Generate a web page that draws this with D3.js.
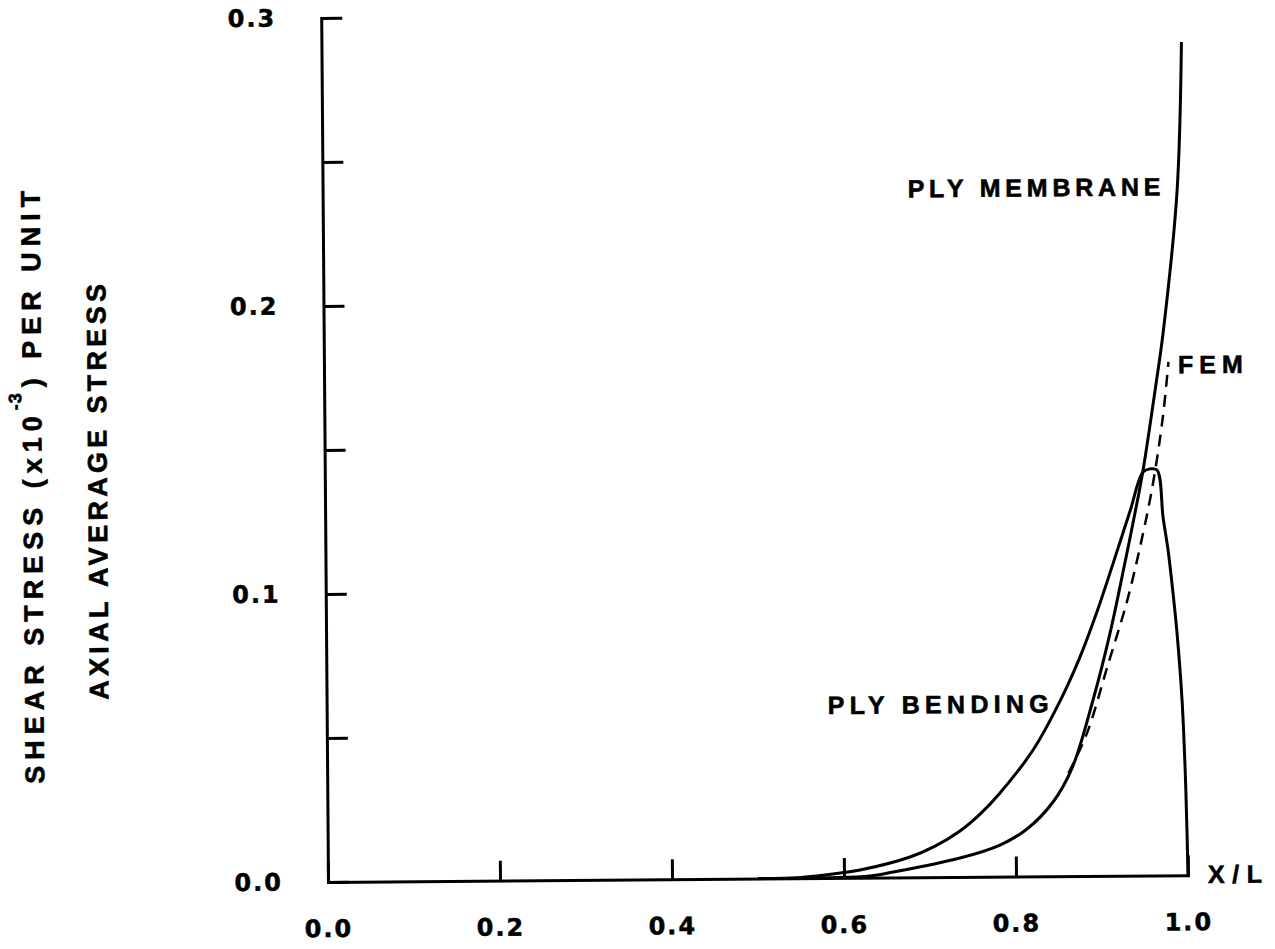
<!DOCTYPE html>
<html>
<head>
<meta charset="utf-8">
<script src="https://cdn.jsdelivr.net/npm/d3@7"></script>
<style>
  html, body { margin: 0; padding: 0; background: #fff; }
  svg { display: block; }
  .lbl { font-family: "Liberation Sans", Arial, sans-serif; font-weight: bold; fill: #000; stroke: #000; stroke-width: 0.6px; }
  .tick text { font-family: "DejaVu Sans", sans-serif; font-weight: bold; font-size: 24px; fill: #000; stroke: #000; stroke-width: 0.5px; letter-spacing: 2px; }
</style>
</head>
<body>
<script>
// ---- data ----
const xTickVals = [0, 0.2, 0.4, 0.6, 0.8, 1.0];
const yTickVals = [0, 0.05, 0.1, 0.15, 0.2, 0.25, 0.3];
const yLabelVals = [0, 0.1, 0.2, 0.3];

const membraneX = [0.50, 0.58, 0.6303, 0.6571, 0.7351, 0.7817, 0.8133, 0.8438, 0.8662, 0.8912, 0.9116, 0.9285, 0.9448, 0.9515, 0.968, 0.976, 0.9935, 1.0];
const membraneY = [0, 0.0001, 0.0006, 0.0019, 0.0066, 0.0110, 0.0165, 0.0258, 0.0375, 0.0611, 0.0843, 0.1072, 0.1304, 0.1408, 0.172, 0.1883, 0.2373, 0.2893];

const bendingX = [0.50, 0.55, 0.5954, 0.6187, 0.677, 0.7062, 0.7353, 0.7588, 0.7822, 0.821, 0.8528, 0.8765, 0.8967, 0.9157, 0.936, 0.9514, 0.9596, 0.9677, 0.9743, 0.9798, 0.9852, 0.9895, 0.9947, 0.9976, 0.9993, 1.0];
const bendingY = [0, 0.0003, 0.0017, 0.0027, 0.0071, 0.0108, 0.016, 0.0218, 0.0291, 0.0439, 0.0608, 0.0761, 0.0918, 0.1084, 0.1266, 0.1401, 0.1412, 0.1408, 0.1244, 0.113, 0.098, 0.0841, 0.0609, 0.0376, 0.0147, 0];

const femX = [0.862, 0.884, 0.908, 0.932, 0.951, 0.963, 0.975, 0.982];
const femY = [0.0358, 0.0497, 0.0725, 0.0957, 0.119, 0.1363, 0.1592, 0.1783];

// ---- layout ----
const W = 1275, H = 949;
const x = d3.scaleLinear().domain([0, 1]).range([328, 1188]);
const y = d3.scaleLinear().domain([0, 0.3]).range([882, 18]);

const svg = d3.select("body").append("svg").attr("width", W).attr("height", H);
const g = svg.append("g").attr("transform", "rotate(-0.45, 328, 882)");

const fmt = d3.format(".1f");
const isLabelled = d => yLabelVals.some(v => Math.abs(v - d) < 1e-9);

// y axis
const yAxis = g.append("g")
  .attr("transform", `translate(${x(0)},0)`)
  .call(d3.axisLeft(y).tickValues(yTickVals).tickSize(-21).tickSizeOuter(0)
        .tickPadding(45).tickFormat(d => isLabelled(d) ? fmt(d) : ""));

// x axis
const xAxis = g.append("g")
  .attr("transform", `translate(0,${y(0)})`)
  .call(d3.axisBottom(x).tickValues(xTickVals).tickSize(-20).tickSizeOuter(0)
        .tickPadding(38).tickFormat(fmt));

[yAxis, xAxis].forEach(a => {
  a.select(".domain").attr("stroke", "#000").attr("stroke-width", 3).attr("stroke-linecap", "square");
  a.selectAll(".tick line").attr("stroke", "#000").attr("stroke-width", 3);
});

// curves
const line = d3.line().x(d => x(d[0])).y(d => y(d[1])).curve(d3.curveCatmullRom.alpha(0.5));
const zip = (a, b) => a.map((v, i) => [v, b[i]]);

g.append("path").datum(zip(membraneX, membraneY)).attr("d", line)
  .attr("fill", "none").attr("stroke", "#000").attr("stroke-width", 3).attr("stroke-linejoin", "round");
g.append("path").datum(zip(bendingX, bendingY)).attr("d", line)
  .attr("fill", "none").attr("stroke", "#000").attr("stroke-width", 3).attr("stroke-linejoin", "round");
g.append("path").datum(zip(femX, femY)).attr("d", line)
  .attr("fill", "none").attr("stroke", "#000").attr("stroke-width", 2.5).attr("stroke-dasharray", "12,8");

// annotations
function label(txt, px, py, size, ls) {
  return g.append("text").attr("class", "lbl").attr("x", px).attr("y", py)
    .style("font-size", size + "px").style("letter-spacing", ls + "px").text(txt);
}
label("PLY MEMBRANE", 913, 202, 25, 4.8);
label("PLY BENDING", 829, 718, 25, 5.3);
label("FEM", 1182, 380, 25, 6);
label("X/L", 1208, 890, 25, 7.5);

// y-axis title
const t1 = g.append("text").attr("class", "lbl")
  .attr("transform", "translate(45,482) rotate(-90)")
  .attr("text-anchor", "middle")
  .style("font-size", "27px").style("letter-spacing", "6px");
t1.append("tspan").text("SHEAR STRESS (x10");
t1.append("tspan").attr("dy", -20).style("font-size", "18px").style("letter-spacing", "1px").text("-3");
t1.append("tspan").attr("dy", 20).attr("dx", 5).text(") PER UNIT");

g.append("text").attr("class", "lbl")
  .attr("transform", "translate(110,488) rotate(-90)")
  .attr("text-anchor", "middle")
  .style("font-size", "27px").style("letter-spacing", "4.3px")
  .text("AXIAL AVERAGE STRESS");
</script>
</body>
</html>
